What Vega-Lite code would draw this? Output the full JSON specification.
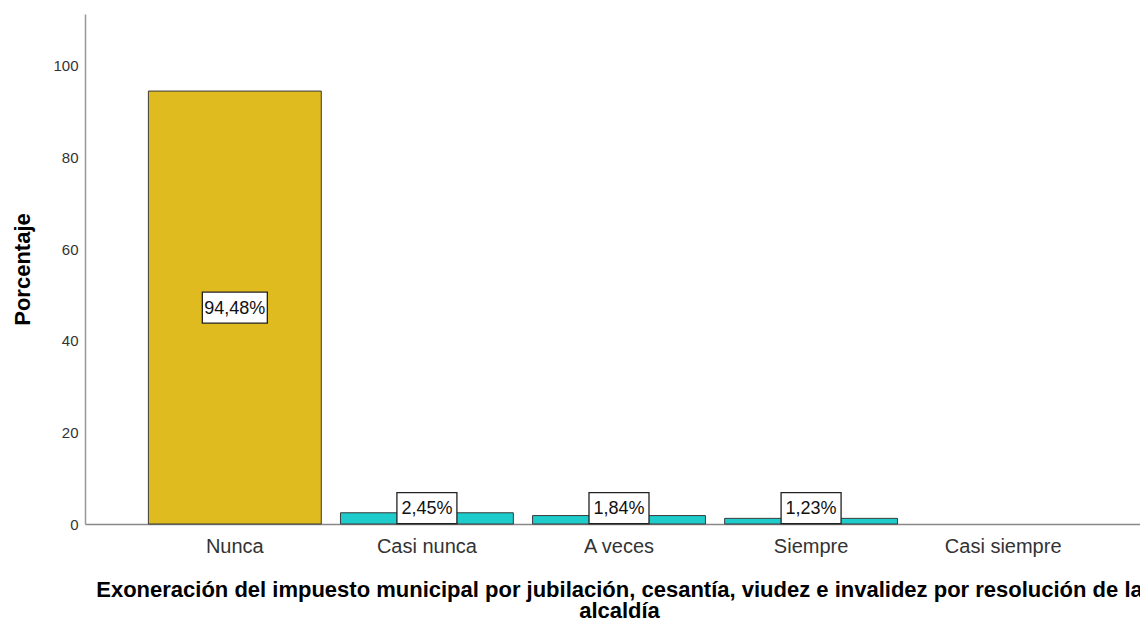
{
  "$schema": "https://vega.github.io/schema/vega-lite/v6.json",
  "autosize": {"type": "none"},
  "padding": {"left": 85, "top": 14, "right": 0, "bottom": 97},
  "width": 1068,
  "height": 510,
  "background": "white",
  "config": {"view": {"stroke": null}, "font": "Liberation Sans"},
  "data": {"values": [
    {"categoria": "Nunca", "porcentaje": 94.48, "etiqueta": "94,48%"},
    {"categoria": "Casi nunca", "porcentaje": 2.45, "etiqueta": "2,45%"},
    {"categoria": "A veces", "porcentaje": 1.84, "etiqueta": "1,84%"},
    {"categoria": "Siempre", "porcentaje": 1.23, "etiqueta": "1,23%"},
    {"categoria": "Casi siempre", "porcentaje": 0, "etiqueta": ""}
  ]},
  "encoding": {
    "x": {
      "field": "categoria", "type": "nominal", "sort": null,
      "scale": {"paddingInner": 0.1, "paddingOuter": 0.33},
      "axis": {
        "title": ["Exoneración del impuesto municipal por jubilación, cesantía, viudez e invalidez por resolución de la", "alcaldía"],
        "titleFontSize": 22, "titleFontWeight": "bold", "titleColor": "#000000", "titleLineHeight": 21, "titlePadding": 23,
        "labelFontSize": 20, "labelColor": "#333333", "labelAngle": 0, "labelPadding": 12,
        "ticks": false, "domainColor": "#888888", "domainWidth": 1.5
      }
    }
  },
  "layer": [
    {
      "mark": {"type": "bar", "stroke": "#3a3a3a"},
      "encoding": {
        "y": {
          "field": "porcentaje", "type": "quantitative",
          "scale": {"domain": [0, 111.3], "nice": false},
          "axis": {
            "title": "Porcentaje", "titleFontSize": 22, "titleFontWeight": "bold", "titleColor": "#000000", "titlePadding": 18,
            "values": [0, 20, 40, 60, 80, 100], "labelFontSize": 15, "labelColor": "#333333", "labelPadding": 7,
            "ticks": false, "grid": false, "domainColor": "#999999", "domainWidth": 1.5
          }
        },
        "color": {
          "condition": {"test": "datum.categoria === 'Nunca'", "value": "#E0BB1F"},
          "value": "#1ECCCC"
        },
        "strokeWidth": {
          "condition": {"test": "datum.porcentaje === 0", "value": 0},
          "value": 1
        }
      }
    },
    {
      "transform": [{"filter": "datum.categoria === 'Nunca'"}],
      "mark": {"type": "point", "shape": "M-1,-0.477H1V0.477H-1Z", "filled": true, "fill": "white", "stroke": "#222222", "strokeWidth": 1.3, "opacity": 1, "size": 4225},
      "encoding": {
        "y": {"field": "porcentaje", "type": "quantitative", "scale": {"domain": [0, 222.6], "nice": false}, "axis": null}
      }
    },
    {
      "transform": [{"filter": "datum.categoria === 'Nunca'"}],
      "mark": {"type": "text", "fontSize": 18, "color": "#111111", "dy": 1},
      "encoding": {
        "y": {"field": "porcentaje", "type": "quantitative", "scale": {"domain": [0, 222.6], "nice": false}, "axis": null},
        "text": {"field": "etiqueta"}
      }
    },
    {
      "transform": [{"filter": "datum.categoria !== 'Nunca' && datum.porcentaje > 0"}],
      "mark": {"type": "point", "shape": "M-1,-0.517H1V0.517H-1Z", "filled": true, "fill": "white", "stroke": "#222222", "strokeWidth": 1.3, "opacity": 1, "size": 3600},
      "encoding": {
        "y": {"datum": 3.45, "type": "quantitative", "scale": {"domain": [0, 111.3], "nice": false}, "axis": null}
      }
    },
    {
      "transform": [{"filter": "datum.categoria !== 'Nunca' && datum.porcentaje > 0"}],
      "mark": {"type": "text", "fontSize": 18, "color": "#111111", "dy": 1},
      "encoding": {
        "y": {"datum": 3.45, "type": "quantitative", "scale": {"domain": [0, 111.3], "nice": false}, "axis": null},
        "text": {"field": "etiqueta"}
      }
    }
  ],
  "resolve": {"scale": {"y": "independent"}}
}
